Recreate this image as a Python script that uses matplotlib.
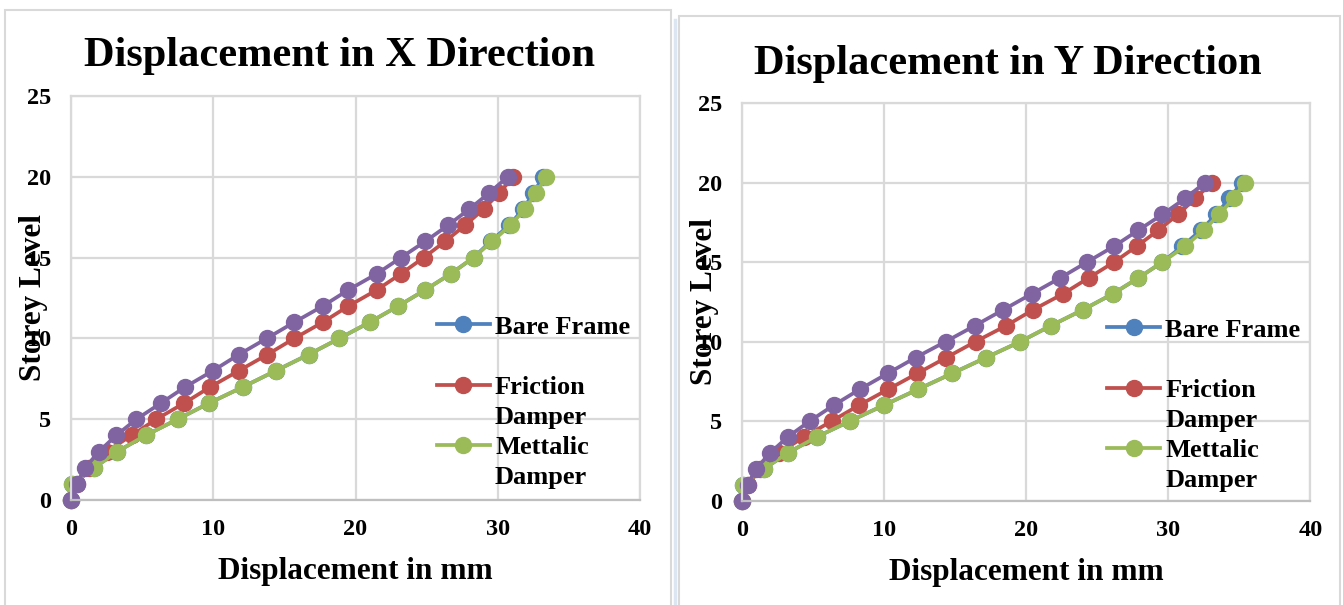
import numpy as np
import matplotlib.pyplot as plt
from matplotlib.patches import Rectangle
from matplotlib.lines import Line2D

storey = list(range(21))

# displacement in X direction (mm)
x_bare = [0, 0.1, 1.64, 3.26, 5.25, 7.5, 9.72, 12.1, 14.4, 16.7, 18.87,
          21.0, 23.0, 24.9, 26.7, 28.3, 29.5, 30.8, 31.8, 32.5, 33.2]
x_friction = [0, 0.45, 1.3, 2.5, 4.26, 6.0, 7.97, 9.8, 11.8, 13.8, 15.7,
              17.7, 19.5, 21.5, 23.2, 24.8, 26.3, 27.7, 29.0, 30.1, 31.1]
x_metallic = [0, 0.1, 1.64, 3.26, 5.25, 7.5, 9.72, 12.1, 14.4, 16.7, 18.87,
              21.0, 23.0, 24.9, 26.7, 28.3, 29.6, 30.9, 31.9, 32.7, 33.4]
x_fourth = [0, 0.4, 1.0, 1.97, 3.18, 4.6, 6.33, 8.04, 9.98, 11.8, 13.76,
            15.7, 17.7, 19.5, 21.5, 23.2, 24.9, 26.5, 28.0, 29.4, 30.7]

# displacement in Y direction (mm)
y_bare = [0, 0.1, 1.57, 3.23, 5.27, 7.6, 10.0, 12.4, 14.8, 17.2, 19.6,
          21.75, 24.0, 26.1, 27.9, 29.6, 31.0, 32.3, 33.4, 34.3, 35.2]
y_friction = [0, 0.45, 1.3, 2.6, 4.38, 6.33, 8.25, 10.3, 12.35, 14.4, 16.45,
              18.6, 20.5, 22.6, 24.4, 26.2, 27.8, 29.3, 30.7, 31.9, 33.1]
y_metallic = [0, 0.1, 1.57, 3.23, 5.27, 7.6, 10.0, 12.4, 14.8, 17.2, 19.6,
              21.75, 24.0, 26.1, 27.9, 29.6, 31.2, 32.5, 33.6, 34.6, 35.4]
y_fourth = [0, 0.42, 1.0, 2.0, 3.23, 4.78, 6.47, 8.3, 10.27, 12.24, 14.35,
            16.4, 18.4, 20.4, 22.4, 24.3, 26.2, 27.9, 29.6, 31.2, 32.6]

# legend rows as the chart wraps them (None = continuation line)
legend_rows = [("Bare Frame", 0), ("", None), ("Friction", 1), ("Damper", None),
               ("Mettalic", 2), ("Damper", None)]
colors = ["#4F81BD", "#C0504D", "#9BBB59", "#8064A2"]

plt.rcParams['font.family'] = ['Liberation Serif', 'DejaVu Serif']
plt.rcParams['font.weight'] = 'bold'

W, H = 1343, 605
fig = plt.figure(figsize=(W / 100, H / 100), dpi=100)

# chart frames
fig.patches.append(Rectangle((5 / W, -0.01), 666 / W, 1 - 10 / H + 0.01,
                             transform=fig.transFigure, fill=False,
                             edgecolor="#D9D9D9", lw=1.5))
fig.patches.append(Rectangle((679 / W, -0.01), 661 / W, 1 - 16 / H + 0.01,
                             transform=fig.transFigure, fill=False,
                             edgecolor="#D9D9D9", lw=1.5))
fig.lines.append(Line2D([675 / W, 675 / W], [0, 1 - 20 / H],
                        transform=fig.transFigure, color="#DCE6F2", lw=2.5))


def panel(rect, series, title, title_xy, leg_anchor):
    ax = fig.add_axes(rect)
    lines = []
    for xs, c in zip(series, colors):
        ln, = ax.plot(xs, storey, color=c, lw=2.7, marker='o', ms=11.5,
                      clip_on=False)
        lines.append(ln)
    ax.set_xlim(0, 40)
    ax.set_ylim(0, 25)
    ax.set_xticks([0, 10, 20, 30, 40])
    ax.set_yticks([0, 5, 10, 15, 20, 25])
    ax.grid(True, color="#D9D9D9", lw=1.6)
    ax.set_axisbelow(True)
    for s in ax.spines.values():
        s.set_color("#D9D9D9")
        s.set_linewidth(1.6)
    ax.spines['bottom'].set_color("#BFBFBF")
    ax.tick_params(length=0, labelsize=17.5, pad=14)
    ax.set_xlabel("Displacement in mm", fontsize=22.5, fontweight='bold',
                  labelpad=12)
    ax.set_ylabel("Storey Level", fontsize=22.5, fontweight='bold',
                  va='center')
    ax.yaxis.set_label_coords(-0.066, 0.5)

    handles, texts = [], []
    for txt, idx in legend_rows:
        if idx is None:
            handles.append(Line2D([], [], alpha=0))
        else:
            handles.append(lines[idx])
        texts.append(txt)
    ax.legend(handles, texts, loc='upper left', bbox_to_anchor=leg_anchor,
              frameon=False, fontsize=19, handlelength=2.0,
              handletextpad=0.2, labelspacing=0.25, borderpad=0)
    fig.text(title_xy[0] / W, 1 - title_xy[1] / H, title, fontsize=30.5,
             ha='center', va='center')
    return ax


panel([71 / W, 1 - 500 / H, 569 / W, 404 / H],
      [x_bare, x_friction, x_metallic, x_fourth],
      "Displacement in X Direction", (340, 56), (0.62, 0.49))
panel([741.7 / W, 1 - 500.7 / H, 568.6 / W, 397.7 / H],
      [y_bare, y_friction, y_metallic, y_fourth],
      "Displacement in Y Direction", (1008, 64), (0.62, 0.492))

fig.savefig("out.png", dpi=100)
